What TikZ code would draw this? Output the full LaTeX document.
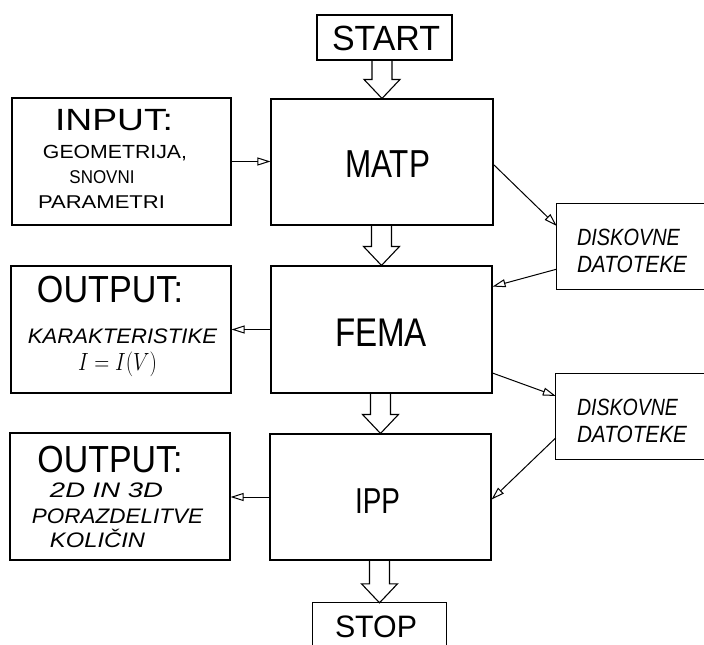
\documentclass[tikz,border=0pt]{standalone}
\usepackage{fontspec}
\setmainfont{Liberation Sans}
\usepackage{graphicx}
\usetikzlibrary{calc,arrows.meta}
\newcommand\tx[3]{{\fontsize{#1}{#1}\selectfont\resizebox{#2pt}{\height}{#3}}}
\newcommand\fatarrow[2]{%
  \draw[fat] let \p1=(#1.south), \p2=(#2.north) in
  (\x2-10pt,\y1) -- (\x2-10pt,\y2+19pt) -- (\x2-18pt,\y2+19pt) -- (\x2,\y2)
  -- (\x2+18pt,\y2+19pt) -- (\x2+10pt,\y2+19pt) -- (\x2+10pt,\y1);}
\begin{document}
\begin{tikzpicture}[x=1pt,y=-1pt,
  ln/.style={line width=1.1pt},
  box/.style={ln,draw,rectangle,inner sep=0pt},
  ghost/.style={rectangle,inner sep=0pt,draw=none},
  lbl/.style={inner sep=0pt,anchor=base},
  fat/.style={ln,line join=miter},
  arr/.style={line width=1pt,-{Triangle[open,length=13pt,width=8pt,line width=1pt]}}]
\useasboundingbox (0,0) rectangle (704,645);
% boxes
\node[box,minimum width=135pt,minimum height=45pt] (start) at (384.5,37.5) {};
\node[box,minimum width=222pt,minimum height=126pt] (matp) at (382,162) {};
\node[box,minimum width=219pt,minimum height=127pt] (input) at (121.5,161.5) {};
\node[box,minimum width=221pt,minimum height=127pt] (fema) at (381.5,329.5) {};
\node[box,minimum width=220pt,minimum height=127pt] (out1) at (121,329.5) {};
\node[box,minimum width=221pt,minimum height=126pt] (ipp) at (380.5,497) {};
\node[box,minimum width=220pt,minimum height=127pt] (out2) at (120,496.5) {};
\node[ghost,minimum width=133pt,minimum height=42pt] (stop) at (379.5,624) {};
\draw[ln] (stop.south west) -- (stop.north west) -- (stop.north east) -- (stop.south east);
\node[ghost,minimum width=147pt,minimum height=85pt] (disk1) at (630.5,246.5) {};
\draw[ln] (disk1.north east) -- (disk1.north west) -- (disk1.south west) -- (disk1.south east);
\node[ghost,minimum width=148pt,minimum height=85pt] (disk2) at (630,416.5) {};
\draw[ln] (disk2.north east) -- (disk2.north west) -- (disk2.south west) -- (disk2.south east);
% texts
\node[lbl] (tstart) at (386,50) {\tx{35}{108}{START}};
\node[lbl] (tstop) at (376,637) {\tx{31}{82}{STOP}};
\node[lbl] (tmatp) at (387.5,177) {\tx{39}{85}{MATP}};
\node[lbl] (tfema) at (381,346) {\tx{40}{92}{FEMA}};
\node[lbl] (tipp) at (377.5,513) {\tx{36}{45}{IPP}};
\node[lbl] (tin1) at (114,130) {\tx{30.7}{118}{INPUT:}};
\node[lbl] (tin2) at (115,158) {\tx{19}{144}{GEOMETRIJA,}};
\node[lbl] (tin3) at (102,183) {\tx{18.5}{65}{SNOVNI}};
\node[lbl] (tin4) at (101.5,208) {\tx{18.5}{127}{PARAMETRI}};
\node[lbl] (to1a) at (110,302) {\tx{37.7}{146}{OUTPUT:}};
\node[lbl] (to1b) at (122.5,343) {\tx{21}{189}{\itshape KARAKTERISTIKE}};
\node[lbl] (to1c) at (117.5,370) {\tx{28}{79}{$I=I(V)$}};
\node[lbl] (to2a) at (110,472) {\tx{37.7}{145}{OUTPUT:}};
\node[lbl] (to2b) at (106.5,497) {\tx{21}{113}{\itshape 2D IN 3D}};
\node[lbl] (to2c) at (117.5,523) {\tx{21}{171}{\itshape PORAZDELITVE}};
\node[lbl] (to2d) at (97.5,547) {\tx{21}{95}{\itshape KOLIČIN}};
\node[lbl] (td1a) at (628.5,245) {\tx{23.5}{103}{\itshape DISKOVNE}};
\node[lbl] (td1b) at (632,272) {\tx{23.5}{110}{\itshape DATOTEKE}};
\node[lbl] (td2a) at (627.5,415) {\tx{23.5}{101}{\itshape DISKOVNE}};
\node[lbl] (td2b) at (632,442) {\tx{23.5}{110}{\itshape DATOTEKE}};
% fat arrows
\fatarrow{start}{matp}
\fatarrow{matp}{fema}
\fatarrow{fema}{ipp}
\fatarrow{ipp}{stop}
% thin arrows
\draw[arr] (input.east) -- (matp.west |- input.east);
\draw[arr] (fema.west) -- (out1.east |- fema.west);
\draw[arr] (ipp.west) -- (out2.east |- ipp.west);
\draw[arr] ($(matp.north east)!0.52!(matp.south east)$) -- ($(disk1.north west)!0.26!(disk1.south west)$);
\draw[arr] ($(disk1.north west)!0.765!(disk1.south west)$) -- ($(fema.north east)!0.165!(fema.south east)$);
\draw[arr] ($(fema.north east)!0.84!(fema.south east)$) -- ($(disk2.north west)!0.26!(disk2.south west)$);
\draw[arr] ($(disk2.north west)!0.75!(disk2.south west)$) -- ($(ipp.north east)!0.52!(ipp.south east)$);
\end{tikzpicture}
\end{document}
